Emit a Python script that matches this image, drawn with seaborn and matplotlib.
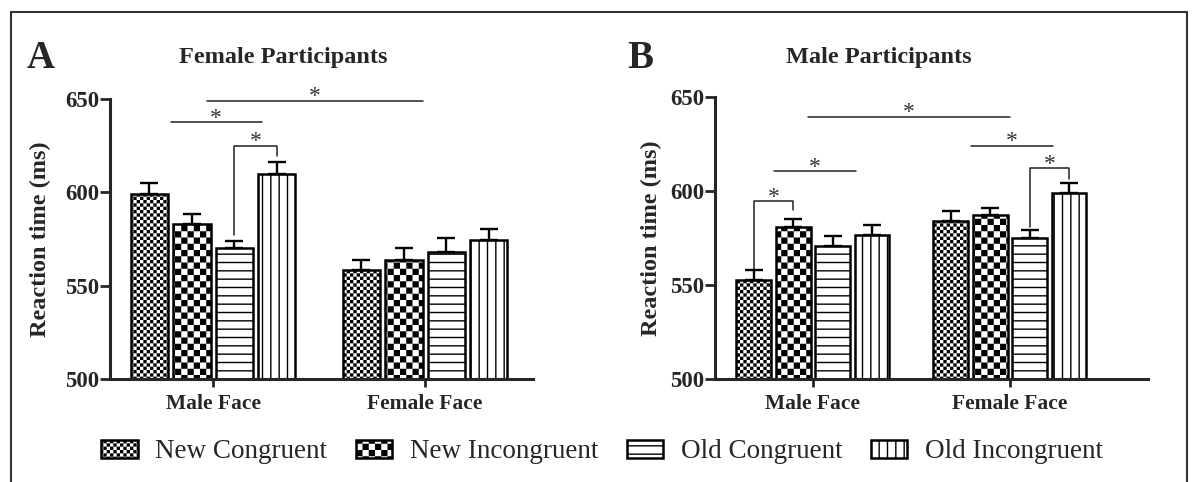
import warnings
import numpy as np
import pandas as pd
import matplotlib
matplotlib.use("Agg")
import matplotlib.pyplot as plt
import matplotlib.hatch as mhatch
from matplotlib.path import Path
from matplotlib.lines import Line2D
import seaborn as sns

warnings.filterwarnings("ignore")

faces = ["Male Face", "Female Face"]
conditions = ["New Congruent", "New Incongruent", "Old Congruent", "Old Incongruent"]

# reaction times (ms), one row per face, one column per condition
female_rt = [[599, 583, 570, 610], [558.5, 564, 568, 574.5]]
female_err = [[6, 5.5, 4, 6.5], [5.5, 6, 7.5, 6]]
male_rt = [[552.5, 581, 571, 576.5], [584, 587, 575, 599]]
male_err = [[5.5, 4, 5, 5.5], [5.5, 4, 4, 5]]

# significance marks: lines (x1, x2, y) and brackets ((face, cond), (face, cond), y1, y2, ytop)
female_lines = [(-0.03, 0.99, 649), (-0.2, 0.23, 637.5)]
female_brackets = [((0, 2), (0, 3), 577, 619.5, 625)]
male_lines = [(-0.025, 1.0, 639.5), (-0.2, 0.22, 610.5), (0.8, 1.22, 624)]
male_brackets = [((0, 0), (0, 1), 558.5, 590, 594.5), ((1, 2), (1, 3), 581, 606.5, 612)]

hatches = ["c", "k", "--", "||"]


class CheckerHatch(mhatch.HatchPatternBase):
    # filled checkerboard, 'c' fine and 'k' coarse
    def __init__(self, hatch, density):
        self.n = hatch.count("c") * 30 + hatch.count("k") * 16
        self.num_vertices = (self.n * self.n // 2) * 5

    def set_vertices_and_codes(self, vertices, codes):
        n = self.n
        inset = plt.rcParams["hatch.linewidth"] / 72 / 2
        s = 1.0 / n
        k = 0
        for i in range(n):
            for j in range(n):
                if (i + j) % 2:
                    continue
                x0, y0 = i * s + inset, j * s + inset
                x1, y1 = (i + 1) * s - inset, (j + 1) * s - inset
                vertices[k:k + 5] = [[x0, y0], [x1, y0], [x1, y1], [x0, y1], [x0, y0]]
                codes[k:k + 5] = [Path.MOVETO, Path.LINETO, Path.LINETO, Path.LINETO, Path.CLOSEPOLY]
                k += 5


mhatch._hatch_types.append(CheckerHatch)

sns.set_style("ticks")
plt.rcParams["font.family"] = ["Liberation Serif", "DejaVu Serif"]
plt.rcParams["hatch.linewidth"] = 1.0
plt.rcParams["hatch.color"] = "black"


def draw_panel(ax, rt, err, lines, brackets, xlim):
    df = pd.DataFrame(
        [(f, c, rt[i][j]) for i, f in enumerate(faces) for j, c in enumerate(conditions)],
        columns=["face", "condition", "rt"],
    )
    sns.barplot(data=df, x="face", y="rt", hue="condition", order=faces, hue_order=conditions,
                palette=["white"] * 4, edgecolor="black", linewidth=1.8, gap=0.12,
                errorbar=None, legend=False, ax=ax)
    bar_groups = list(ax.containers)
    centers = {}
    for j, cont in enumerate(bar_groups):
        for i, bar in enumerate(cont):
            bar.set_hatch(hatches[j])
            cx = bar.get_x() + bar.get_width() / 2
            centers[(i, j)] = cx
            ax.errorbar(cx, rt[i][j], yerr=[[0], [err[i][j]]], color="black",
                        elinewidth=1.7, capsize=6.5, capthick=1.7, zorder=3)

    lc = "#222222"
    star = dict(textcoords="offset points", xytext=(0, -1), ha="center", va="baseline",
                fontsize=17, color="#333333", annotation_clip=False)
    for x1, x2, y in lines:
        ax.plot([x1, x2], [y, y], color=lc, lw=1.1, clip_on=False)
        ax.annotate("*", ((x1 + x2) / 2, y), **star)
    for a, b, y1, y2, ytop in brackets:
        xa, xb = centers[a], centers[b]
        ax.plot([xa, xa, xb, xb], [y1, ytop, ytop, y2], color=lc, lw=1.1, clip_on=False)
        ax.annotate("*", ((xa + xb) / 2, ytop), **star)

    ax.set_ylim(500, 650)
    ax.set_xlim(*xlim)
    ax.set_yticks([500, 550, 600, 650])
    ax.set_xlabel("")
    ax.set_ylabel("Reaction time (ms)", fontsize=17.5, fontweight="bold")
    for lab in ax.get_xticklabels() + ax.get_yticklabels():
        lab.set_fontweight("bold")
    ax.tick_params(axis="y", length=7, width=2, labelsize=16.5, pad=1)
    ax.tick_params(axis="x", length=6, width=2, labelsize=15.5, pad=5)
    sns.despine(ax=ax)
    for side in ["left", "bottom"]:
        ax.spines[side].set_linewidth(2.2)
    return bar_groups


fig = plt.figure(figsize=(11.92, 4.82), dpi=100)
ax_a = fig.add_axes([110 / 1192, 103 / 482, 423 / 1192, 280 / 482])
ax_b = fig.add_axes([715 / 1192, 103 / 482, 433 / 1192, 282 / 482])

groups_a = draw_panel(ax_a, female_rt, female_err, female_lines, female_brackets, (-0.486, 1.509))
draw_panel(ax_b, male_rt, male_err, male_lines, male_brackets, (-0.497, 1.701))
ax_a.yaxis.set_label_coords(-0.14, 0.5)
ax_b.yaxis.set_label_coords(-0.123, 0.5)

fig.text(27 / 1192, 1 - 68 / 482, "A", fontsize=28, fontweight="bold", va="baseline")
fig.text(627 / 1192, 1 - 68 / 482, "B", fontsize=28, fontweight="bold", va="baseline")
fig.text(283 / 1192, 1 - 63 / 482, "Female Participants", fontsize=17.5, fontweight="bold",
         ha="center", va="baseline")
fig.text(879 / 1192, 1 - 63 / 482, "Male Participants", fontsize=17.5, fontweight="bold",
         ha="center", va="baseline")

handles = [cont.patches[0] for cont in groups_a]
fig.legend(handles, conditions, loc="center", bbox_to_anchor=(602 / 1192, 1 - 452 / 482),
           ncol=4, frameon=False, fontsize=19.5, handlelength=1.35, handleheight=0.67,
           handletextpad=0.65, columnspacing=1.05)

# outer frame
bc = "#333333"
fig.add_artist(Line2D([11 / 1192, 11 / 1192], [-0.01, 1 - 12 / 482], color=bc, lw=1.5))
fig.add_artist(Line2D([1187 / 1192, 1187 / 1192], [-0.01, 1 - 12 / 482], color=bc, lw=1.5))
fig.add_artist(Line2D([11 / 1192, 1187 / 1192], [1 - 12 / 482, 1 - 12 / 482], color=bc, lw=1.5))

fig.savefig("out.png", dpi=100)
